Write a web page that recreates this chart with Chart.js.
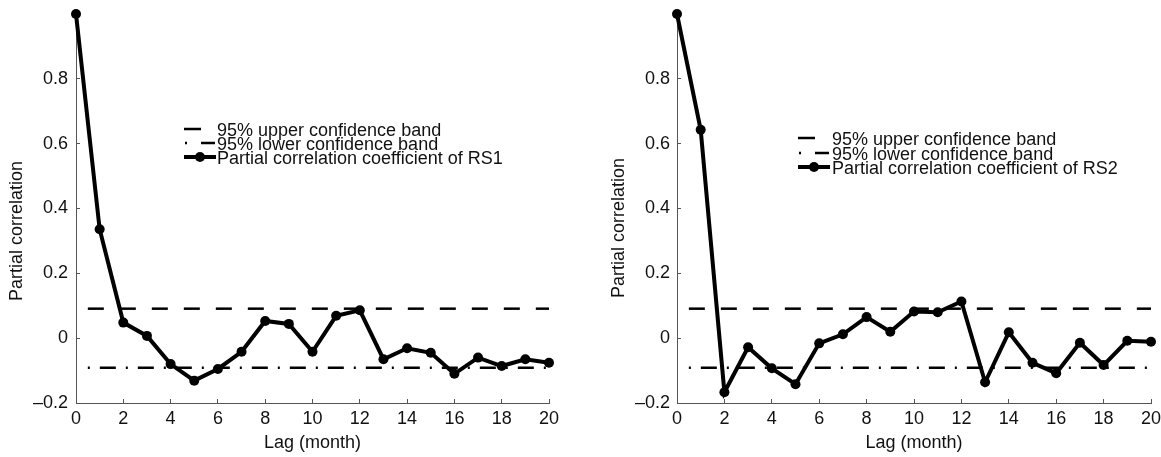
<!DOCTYPE html>
<html><head><meta charset="utf-8">
<script src="https://cdn.jsdelivr.net/npm/chart.js@4.4.1/dist/chart.umd.min.js"></script>
<style>
html,body{margin:0;padding:0;background:#fff;}
body{width:1161px;height:457px;position:relative;overflow:hidden;}
.box{position:absolute;top:0;height:457px;}
#b1{left:0;width:560px;}
#b2{left:600px;width:561px;}
</style></head><body>
<div class="box" id="b1"><canvas id="c1"></canvas></div>
<div class="box" id="b2"><canvas id="c2"></canvas></div>
<script>
// ---- data ----
const lags = [0,1,2,3,4,5,6,7,8,9,10,11,12,13,14,15,16,17,18,19,20];
const rs1 = [1.0,0.336,0.048,0.007,-0.080,-0.131,-0.095,-0.042,0.053,0.044,-0.042,0.069,0.086,-0.065,-0.031,-0.045,-0.110,-0.060,-0.086,-0.065,-0.076];
const rs2 = [1.0,0.643,-0.167,-0.028,-0.093,-0.142,-0.016,0.012,0.065,0.020,0.082,0.080,0.113,-0.136,0.018,-0.076,-0.108,-0.014,-0.083,-0.008,-0.011];
const bandLags = [0.5, 20];
const upperBand = [0.091, 0.091];
const lowerBand = [-0.091, -0.091];
const xTickStep = 2;
const yTickStep = 0.2;
const xTitle = 'Lag (month)';
const yTitle = 'Partial correlation';
const legend1 = ['95% upper confidence band','95% lower confidence band','Partial correlation coefficient of RS1'];
const legend2 = ['95% upper confidence band','95% lower confidence band','Partial correlation coefficient of RS2'];

const FONT = '"Liberation Sans", Arial, Helvetica, sans-serif';
const AX = '#555';

function pts(xs, ys){ return xs.map((x,i)=>({x:x, y:ys[i]})); }
function fmtY(v){
  if (Math.abs(v-1) < 1e-9) return null;
  if (Math.abs(v) < 1e-9) return '0';
  const s = Math.abs(v).toFixed(1);
  return v < 0 ? '\u2013' + s : s;
}

const overlayPlugin = {
  id: 'overlay',
  afterDraw(chart, args, o) {
    const ctx = chart.ctx;
    ctx.save();
    // y axis title
    ctx.font = '18px ' + FONT;
    ctx.fillStyle = '#111';
    ctx.textAlign = 'center';
    ctx.textBaseline = 'middle';
    ctx.translate(o.yTitleX, o.yTitleY);
    ctx.rotate(-Math.PI/2);
    ctx.fillText(yTitle, 0, 0);
    ctx.setTransform(1,0,0,1,0,0);
    // legend
    const sx = o.sx, rows = o.rows;
    const line = (x1,y1,x2,y2)=>{ctx.beginPath();ctx.moveTo(x1,y1);ctx.lineTo(x2,y2);ctx.stroke();};
    ctx.strokeStyle = '#000'; ctx.fillStyle = '#000';
    ctx.lineWidth = 2.5; ctx.setLineDash([]);
    line(sx, rows[0], sx+17, rows[0]);
    line(sx+1, rows[1], sx+3, rows[1]);
    line(sx+17, rows[1], sx+31, rows[1]);
    ctx.lineWidth = 4;
    line(sx, rows[2], sx+32, rows[2]);
    ctx.beginPath(); ctx.arc(sx+16, rows[2], 5, 0, Math.PI*2); ctx.fill();
    ctx.font = '18px ' + FONT;
    ctx.fillStyle = '#111';
    ctx.textAlign = 'left';
    ctx.textBaseline = 'alphabetic';
    o.labels.forEach((l,i)=>ctx.fillText(l, o.tx, rows[i] + 6.5));
    ctx.restore();
  }
};

function makeChart(id, series, yW, padR, tickPad, ov){
  return new Chart(document.getElementById(id), {
    type: 'line',
    data: {
      datasets: [
        { data: pts(bandLags, upperBand), borderColor:'#000', borderWidth:2.5, borderDash:[16,16], pointRadius:0, fill:false, clip:false },
        { data: pts(bandLags, lowerBand), borderColor:'#000', borderWidth:2.5, borderDash:[2,10,16,10], pointRadius:0, fill:false, clip:false },
        { data: pts(lags, series), borderColor:'#000', borderWidth:4, pointRadius:5, pointBackgroundColor:'#000', pointBorderWidth:0, fill:false, clip:false, tension:0 }
      ]
    },
    options: {
      responsive: true, maintainAspectRatio: false, animation: false, events: [],
      layout: { padding: { top: 14, right: padR, left: 0, bottom: 0 } },
      plugins: { legend: { display:false }, tooltip: { enabled:false }, overlay: ov },
      scales: {
        x: {
          type: 'linear', min: 0, max: 20,
          ticks: { stepSize: xTickStep, color:'#111', font:{ family: FONT, size: 18 }, padding: 9, maxRotation:0 },
          grid: { drawOnChartArea:false, drawTicks:true, tickLength:-4, color: AX },
          border: { display:true, color: AX, width: 1 },
          title: { display:true, text: xTitle, color:'#111', font:{ family: FONT, size: 18 }, padding:{ top:0, bottom:3 } },
          afterFit(s){ s.height = 54; s.paddingLeft = 0; s.paddingRight = 0; }
        },
        y: {
          type: 'linear', min: -0.2, max: 1,
          ticks: { stepSize: yTickStep, color:'#111', font:{ family: FONT, size: 18 }, padding: tickPad, callback: fmtY },
          grid: { drawOnChartArea:false, drawTicks:true, tickLength:-4, color: AX },
          border: { display:true, color: AX, width: 1 },
          afterFit(s){ s.width = yW; s.paddingTop = 0; s.paddingBottom = 0; }
        }
      }
    },
    plugins: [overlayPlugin]
  });
}

makeChart('c1', rs1, 76, 11, 12, { yTitleX: 17.5, yTitleY: 231, sx: 184, tx: 217, rows: [129, 143, 157], labels: legend1 });
makeChart('c2', rs2, 77, 10, 11, { yTitleX: 19, yTitleY: 228, sx: 198, tx: 232, rows: [138, 153, 167], labels: legend2 });
</script>
</body></html>
